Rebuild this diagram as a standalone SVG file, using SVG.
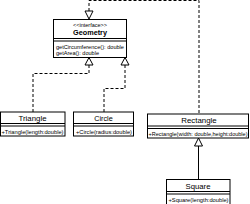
<svg xmlns="http://www.w3.org/2000/svg" width="250" height="204" viewBox="0 0 250 204">
<style>
.box{fill:#fff;stroke:#000;stroke-width:1}
.ln{stroke:#000;stroke-width:1;fill:none}
.dash{stroke:#000;stroke-width:1;fill:none;stroke-dasharray:3,2}
.tri{fill:#fff;stroke:#000;stroke-width:1}
.t{font-family:"Liberation Sans",Arial,sans-serif;fill:#000}
.title{font-size:7.5px;text-anchor:middle}
.m{font-size:5.5px}
</style>
<rect width="250" height="204" fill="#fff"/>
<g id="connectors">
  <polyline class="dash" points="199,113 199,0.5 89,0.5 89,11"/>
  <polygon class="tri" points="89,19 85,11 93,11"/>
  <polyline class="dash" points="33,112 33,73.5 89,73.5 89,65"/>
  <polygon class="tri" points="89,57.5 85,65 93,65"/>
  <polyline class="dash" points="104,112 104,88.5 125,88.5 125,65"/>
  <polygon class="tri" points="125,57.5 121,65 129,65"/>
  <line class="ln" x1="198.5" y1="179" x2="198.5" y2="146"/>
  <polygon class="tri" points="198.5,138 194.5,146 202.5,146"/>
</g>
<g id="Geometry">
  <rect class="box" x="53.5" y="19.5" width="73" height="38"/>
  <line class="ln" x1="53.5" y1="38.5" x2="126.5" y2="38.5"/>
  <line class="ln" x1="53.5" y1="41" x2="126.5" y2="41"/>
  <text class="t" x="90" y="27" font-size="5" text-anchor="middle" textLength="34" lengthAdjust="spacingAndGlyphs">&lt;&lt;interface&gt;&gt;</text>
  <text class="t" x="90" y="35" font-size="7.5" font-weight="bold" text-anchor="middle" textLength="34" lengthAdjust="spacingAndGlyphs">Geometry</text>
  <text class="t m" x="56" y="48.5" textLength="68" lengthAdjust="spacingAndGlyphs">getCircumference(): double</text>
  <text class="t m" x="56" y="55" textLength="43" lengthAdjust="spacingAndGlyphs">getArea(): double</text>
</g>
<g id="Triangle">
  <rect class="box" x="0.5" y="112" width="64.5" height="24"/>
  <line class="ln" x1="0.5" y1="123.5" x2="65" y2="123.5"/>
  <line class="ln" x1="0.5" y1="126" x2="65" y2="126"/>
  <text class="t title" x="32.5" y="120.5" textLength="28" lengthAdjust="spacingAndGlyphs">Triangle</text>
  <text class="t m" x="1.5" y="133.5" textLength="62" lengthAdjust="spacingAndGlyphs">+Triangle(length:double)</text>
</g>
<g id="Circle">
  <rect class="box" x="73.5" y="112" width="60" height="24"/>
  <line class="ln" x1="73.5" y1="123.5" x2="133.5" y2="123.5"/>
  <line class="ln" x1="73.5" y1="126" x2="133.5" y2="126"/>
  <text class="t title" x="103.5" y="120.5" textLength="18.5" lengthAdjust="spacingAndGlyphs">Circle</text>
  <text class="t m" x="76" y="133.5" textLength="56" lengthAdjust="spacingAndGlyphs">+Circle(radius:double)</text>
</g>
<g id="Rectangle">
  <rect class="box" x="147.5" y="114" width="101" height="24"/>
  <line class="ln" x1="147.5" y1="126" x2="248.5" y2="126"/>
  <line class="ln" x1="147.5" y1="128.5" x2="248.5" y2="128.5"/>
  <text class="t title" x="199" y="123" textLength="35.5" lengthAdjust="spacingAndGlyphs">Rectangle</text>
  <text class="t m" x="148.5" y="136" textLength="99" lengthAdjust="spacingAndGlyphs">+Rectangle(width: double,height:double)</text>
</g>
<g id="Square">
  <rect class="box" x="166.5" y="179.5" width="63.5" height="25"/>
  <line class="ln" x1="166.5" y1="191.5" x2="230" y2="191.5"/>
  <line class="ln" x1="166.5" y1="194" x2="230" y2="194"/>
  <text class="t title" x="198" y="189" textLength="25" lengthAdjust="spacingAndGlyphs">Square</text>
  <text class="t m" x="168.5" y="201.5" textLength="60" lengthAdjust="spacingAndGlyphs">+Square(length:double)</text>
</g>
</svg>
